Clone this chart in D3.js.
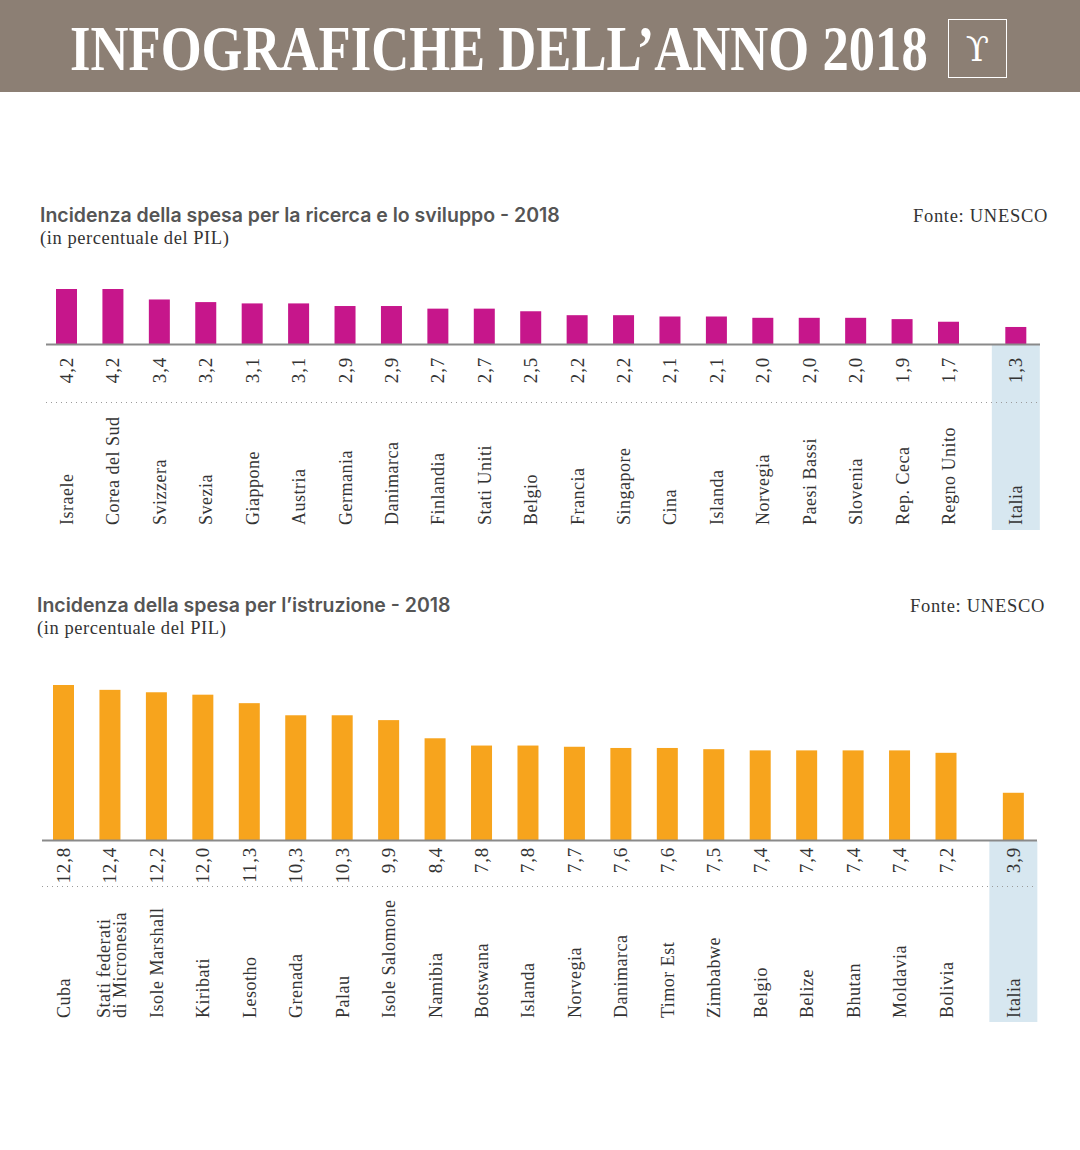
<!DOCTYPE html>
<html><head><meta charset="utf-8">
<script src="https://cdn.jsdelivr.net/npm/d3@7/dist/d3.min.js"></script>
<style>body{margin:0;background:#fff}svg{display:block}</style>
</head><body>
<svg id="c" width="1080" height="1150"></svg>
<script>
// ---- data ----
const rdCountries = ["Israele","Corea del Sud","Svizzera","Svezia","Giappone","Austria","Germania","Danimarca","Finlandia","Stati Uniti","Belgio","Francia","Singapore","Cina","Islanda","Norvegia","Paesi Bassi","Slovenia","Rep. Ceca","Regno Unito"];
const rdValues = [4.2,4.2,3.4,3.2,3.1,3.1,2.9,2.9,2.7,2.7,2.5,2.2,2.2,2.1,2.1,2.0,2.0,2.0,1.9,1.7];
const rdItaly = {name:"Italia", value:1.3};

const eduCountries = ["Cuba","Stati federati|di Micronesia","Isole Marshall","Kiribati","Lesotho","Grenada","Palau","Isole Salomone","Namibia","Botswana","Islanda","Norvegia","Danimarca","Timor Est","Zimbabwe","Belgio","Belize","Bhutan","Moldavia","Bolivia"];
const eduValues = [12.8,12.4,12.2,12.0,11.3,10.3,10.3,9.9,8.4,7.8,7.8,7.7,7.6,7.6,7.5,7.4,7.4,7.4,7.4,7.2];
const eduItaly = {name:"Italia", value:3.9};

const fmt = v => d3.format(".1f")(v).replace(".", ",");

const svg = d3.select("#c");
const SERIF = "'Liberation Serif','Times New Roman',serif";
const SANS = "Inter,Roboto,'Liberation Sans',sans-serif";

// ---- header ----
svg.append("rect").attr("x",0).attr("y",0).attr("width",1080).attr("height",92).attr("fill","#8c7f74");
const head = svg.append("text").attr("x",0).attr("y",0)
  .attr("font-family",SERIF).attr("font-size",64).attr("font-weight","bold").attr("fill","#fff")
  .text("INFOGRAFICHE DELL’ANNO 2018");
const natural = head.node().getComputedTextLength();
head.attr("transform",`translate(70,70) scale(${858/natural},1)`);
svg.append("rect").attr("x",948.5).attr("y",19.5).attr("width",58).attr("height",58)
  .attr("fill","none").attr("stroke","#fff").attr("stroke-width",1);
svg.append("text").attr("x",977.5).attr("y",61).attr("text-anchor","middle")
  .attr("font-family","'DejaVu Serif',serif").attr("font-size",34).attr("fill","#fff").text("ϒ");

function chart(cfg){
  const g = svg.append("g");
  const x = d3.scalePoint().domain(cfg.countries).range(cfg.xRange);
  const step = x.step();
  const italyX = cfg.xRange[1] + step*cfg.gap;
  const y = d3.scaleLinear().domain([0, cfg.max]).range([cfg.base, cfg.top]);
  const bw = 21;

  // highlight box
  g.append("rect").attr("x", italyX-24).attr("y", cfg.base+1).attr("width",48)
    .attr("height", cfg.boxBottom - cfg.base - 1).attr("fill","#d7e7f0");

  // titles
  g.append("text").attr("x",cfg.titleX).attr("y",cfg.titleY).attr("font-family",SANS)
    .attr("font-weight",600).attr("font-size",19.5).attr("fill","#555").text(cfg.title);
  g.append("text").attr("x",cfg.titleX).attr("y",cfg.titleY+22).attr("font-family",SERIF)
    .attr("font-size",18.5).attr("letter-spacing",0.55).attr("fill","#333").text("(in percentuale del PIL)");
  g.append("text").attr("x",cfg.fonteX).attr("y",cfg.titleY).attr("text-anchor","end").attr("font-family",SERIF)
    .attr("font-size",18.5).attr("letter-spacing",0.7).attr("fill","#333").text("Fonte: UNESCO");

  const rows = cfg.countries.map((c,i)=>({name:c, value:cfg.values[i], cx:x(c)}));
  rows.push({name:cfg.italy.name, value:cfg.italy.value, cx:italyX});

  // bars
  g.selectAll("rect.bar").data(rows).join("rect").attr("class","bar")
    .attr("x", d=>d.cx-bw/2).attr("width",bw)
    .attr("y", d=>y(d.value)).attr("height", d=>cfg.base - y(d.value))
    .attr("fill", cfg.color);

  // axis line
  g.append("line").attr("x1",cfg.axisX[0]).attr("x2",cfg.axisX[1]).attr("y1",cfg.base+0.5).attr("y2",cfg.base+0.5)
    .attr("stroke","#8a8a8a").attr("stroke-width",2);

  // dotted line
  g.append("line").attr("x1",cfg.axisX[0]).attr("x2",cfg.axisX[1]).attr("y1",cfg.dotY).attr("y2",cfg.dotY)
    .attr("stroke","#9a9a9a").attr("stroke-width",1).attr("stroke-dasharray","1,4");

  // value labels
  g.selectAll("text.val").data(rows).join("text").attr("class","val")
    .attr("transform", d=>`translate(${d.cx+6.5},${cfg.base+cfg.valOff}) rotate(-90)`)
    .attr("text-anchor","end").attr("font-family",SERIF).attr("font-size",19).attr("letter-spacing",0.8).attr("fill","#333")
    .text(d=>fmt(d.value));

  // country labels
  const lab = g.selectAll("text.lab").data(rows).join("text").attr("class","lab")
    .attr("transform", d=>`translate(${d.cx+6.5},${cfg.labBottom}) rotate(-90)`)
    .attr("text-anchor","start").attr("font-family",SERIF).attr("font-size",18).attr("letter-spacing",0.5).attr("fill","#333");
  lab.each(function(d){
    const parts = d.name.split("|");
    const t = d3.select(this);
    if(parts.length===1){ t.text(parts[0]); }
    else {
      parts.forEach((p,i)=>t.append("tspan").attr("x",0).attr("y",(i-(parts.length-1)/2)*15.5+1.5).text(p));
    }
  });
}

chart({countries:rdCountries, values:rdValues, italy:rdItaly, xRange:[66.5,948.5], gap:1.45,
  max:4.2, base:344, top:289, color:"#c6168b", axisX:[46,1040], boxBottom:530, valOff:13, dotY:402.5, labBottom:525,
  title:"Incidenza della spesa per la ricerca e lo sviluppo - 2018", titleX:40, titleY:222, fonteX:1048});

chart({countries:eduCountries, values:eduValues, italy:eduItaly, xRange:[63.5,946], gap:1.45,
  max:12.8, base:840, top:685, color:"#f7a41d", axisX:[42,1037], boxBottom:1022, valOff:7, dotY:886.5, labBottom:1018,
  title:"Incidenza della spesa per l’istruzione - 2018", titleX:37, titleY:612, fonteX:1045});
</script>
</body></html>
